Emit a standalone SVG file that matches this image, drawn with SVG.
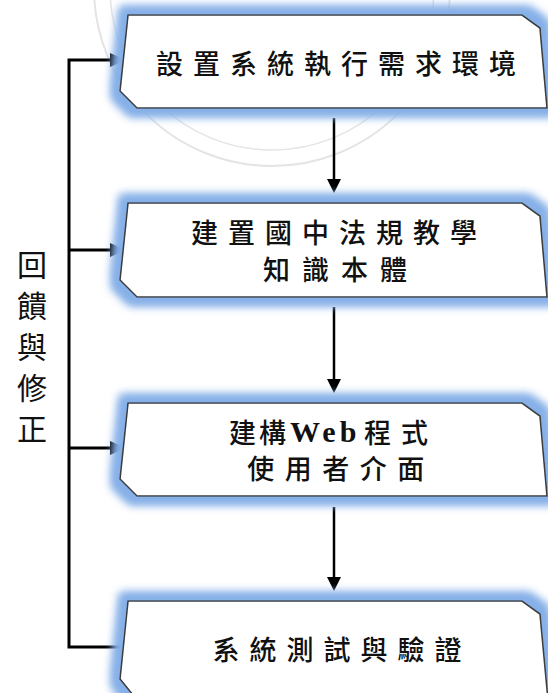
<svg xmlns="http://www.w3.org/2000/svg" width="548" height="693" viewBox="0 0 548 693">
<style>
.box{fill:#ffffff;stroke:#3c3c3c;stroke-width:1.6;stroke-linejoin:miter}
.t{font-family:"Noto Sans CJK TC","Noto Sans CJK SC",sans-serif;font-size:27px;font-weight:500;fill:#111}
.w{font-family:"Liberation Serif",serif;font-size:30px;font-weight:700;fill:#111}
.lbl{font-family:"Noto Sans CJK TC","Noto Sans CJK SC",sans-serif;font-size:30px;font-weight:400;fill:#111}
.fb{fill:none;stroke:#000;stroke-width:3;stroke-linejoin:miter}
.dn{fill:none;stroke:#000;stroke-width:2.5}
.wm{fill:none;stroke:#e4e4e4}
</style>
<defs>
<filter id="glow" x="-10%" y="-40%" width="120%" height="180%">
<feMorphology in="SourceAlpha" operator="dilate" radius="7" result="d"/>
<feGaussianBlur in="d" stdDeviation="5" result="b"/>
<feFlood flood-color="#86b0e8"/>
<feComposite in2="b" operator="in" result="g"/>
<feMerge><feMergeNode in="g"/><feMergeNode in="g"/><feMergeNode in="SourceGraphic"/></feMerge>
</filter>
<marker id="ah" viewBox="0 0 16 14" refX="8" refY="7" markerWidth="16" markerHeight="14" markerUnits="userSpaceOnUse" orient="auto">
<path d="M0,0 L16,7 L0,14 z" fill="#000"/>
</marker>
<marker id="ad" viewBox="0 0 14 14" refX="7" refY="7" markerWidth="14" markerHeight="14" markerUnits="userSpaceOnUse" orient="auto">
<path d="M0,0 L14,7 L0,14 z" fill="#000"/>
</marker>
</defs>
<rect width="548" height="693" fill="#ffffff"/>
<g id="watermark">
<circle class="wm" cx="272" cy="-12" r="178" stroke-width="2"/>
<circle class="wm" cx="272" cy="-12" r="162" stroke-width="1.5"/>
</g>
<g id="connectors">
<path class="fb" d="M126,647 H69 V60 H118" marker-end="url(#ah)"/>
<path class="fb" d="M69,250 H118" marker-end="url(#ah)"/>
<path class="fb" d="M69,448 H118" marker-end="url(#ah)"/>
<path class="dn" d="M334,118 V186" marker-end="url(#ad)"/>
<path class="dn" d="M334,307 V386" marker-end="url(#ad)"/>
<path class="dn" d="M334,507 V584" marker-end="url(#ad)"/>
</g>
<g id="node1">
<polygon class="box" filter="url(#glow)" points="128,15 522,15 540,28 547,108 137,108 120,91"/>
<text class="t" x="341" y="74" text-anchor="middle" letter-spacing="10">設置系統執行需求環境</text>
</g>
<g id="node2">
<polygon class="box" filter="url(#glow)" points="128,203 522,203 540,216 547,297 137,297 120,280"/>
<text class="t" x="339" y="243" text-anchor="middle" letter-spacing="10">建置國中法規教學</text>
<text class="t" x="341" y="280" text-anchor="middle" letter-spacing="12">知識本體</text>
</g>
<g id="node3">
<polygon class="box" filter="url(#glow)" points="128,403 522,403 540,416 547,496 137,496 120,479"/>
<text class="t" x="229" y="443" letter-spacing="3">建構</text>
<text class="w" x="290" y="442" letter-spacing="4">Web</text>
<text class="t" x="364" y="443" letter-spacing="10">程式</text>
<text class="t" x="341" y="479" text-anchor="middle" letter-spacing="10.5">使用者介面</text>
</g>
<g id="node4">
<polygon class="box" filter="url(#glow)" points="128,601 522,601 540,614 548,700 137,700 120,679"/>
<text class="t" x="342" y="660" text-anchor="middle" letter-spacing="10">系統測試與驗證</text>
</g>
<g id="label">
<text class="lbl" x="32" y="276" text-anchor="middle">回</text>
<text class="lbl" x="32" y="317" text-anchor="middle">饋</text>
<text class="lbl" x="32" y="358" text-anchor="middle">與</text>
<text class="lbl" x="32" y="399" text-anchor="middle">修</text>
<text class="lbl" x="32" y="440" text-anchor="middle">正</text>
</g>
</svg>
